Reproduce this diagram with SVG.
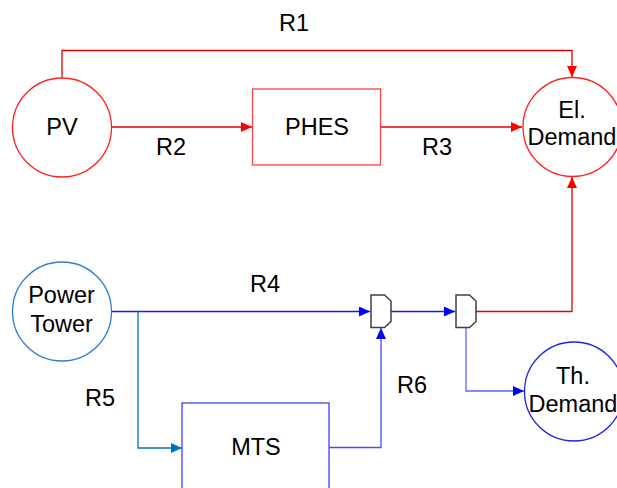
<svg xmlns="http://www.w3.org/2000/svg" width="617" height="488" viewBox="0 0 617 488">
<style>
text{font-family:"Liberation Sans",Arial,sans-serif;font-size:23.5px;fill:#000;text-anchor:middle}
.red{fill:none;stroke:#ff2020;stroke-width:1.3}
.redline{fill:none;stroke:#e00000;stroke-width:1.3}
.blueline{fill:none;stroke:#1a1aee;stroke-width:1.3}
.gate{fill:#ffffff;stroke:#404040;stroke-width:1.5}
</style>
<defs>
<marker id="ar" markerUnits="userSpaceOnUse" markerWidth="12" markerHeight="11" refX="11" refY="5" orient="auto"><path d="M0,0 L11,5 L0,10 Z" fill="#ff0000"/></marker>
<marker id="ab" markerUnits="userSpaceOnUse" markerWidth="12" markerHeight="11" refX="11" refY="5" orient="auto"><path d="M0,0 L11,5 L0,10 Z" fill="#0000ff"/></marker>
<marker id="ac" markerUnits="userSpaceOnUse" markerWidth="12" markerHeight="11" refX="11" refY="5" orient="auto"><path d="M0,0 L11,5 L0,10 Z" fill="#0070c0"/></marker>
</defs>
<g id="connectors">
<path class="redline" stroke="#ff2020" d="M62,77.5 V50.5 H572 V77" marker-end="url(#ar)"/>
<path class="redline" d="M112,127 H252" marker-end="url(#ar)"/>
<path class="redline" stroke="#ff2020" d="M381,127 H522" marker-end="url(#ar)"/>
<path class="redline" stroke="#ff2020" d="M476,311.5 H572 V177" marker-end="url(#ar)"/>
<path class="blueline" d="M111,311.5 H370" marker-end="url(#ab)"/>
<path fill="none" stroke="#0070c0" stroke-width="1.3" d="M138,311.5 V448 H182" marker-end="url(#ac)"/>
<path fill="none" stroke="#4848ff" stroke-width="1.3" d="M329,447.5 H381 V328" marker-end="url(#ab)"/>
<path class="blueline" d="M391,311.5 H455" marker-end="url(#ab)"/>
<path fill="none" stroke="#6060ff" stroke-width="1.3" d="M466,327 V391 H524" marker-end="url(#ab)"/>
</g>
<g id="labels">
<text x="294" y="31">R1</text>
<text x="171" y="155">R2</text>
<text x="437" y="155">R3</text>
<text x="265" y="292">R4</text>
<text x="100" y="406">R5</text>
<text x="412" y="393">R6</text>
</g>
<g id="pv"><circle class="red" cx="62" cy="127.5" r="49.5"/><text x="62" y="135">PV</text></g>
<g id="phes"><rect x="252.5" y="89" width="128" height="76" fill="#fff" stroke="#ff4040" stroke-width="1.3"/><text x="317" y="135">PHES</text></g>
<g id="el-demand"><circle class="red" cx="572.5" cy="127" r="49.5"/><text x="572" y="118">El.</text><text x="572" y="145">Demand</text></g>
<g id="power-tower"><circle fill="none" stroke="#2a80d0" stroke-width="1.3" cx="62" cy="311.5" r="49.5"/><text x="61.5" y="303">Power</text><text x="61.5" y="332">Tower</text></g>
<g id="mts"><rect x="182" y="403" width="147" height="95" fill="#fff" stroke="#4040ff" stroke-width="1.3"/><text x="256" y="455">MTS</text></g>
<g id="th-demand"><circle fill="none" stroke="#2020e0" stroke-width="1.3" cx="574" cy="391.5" r="49.5"/><text x="573" y="384">Th.</text><text x="573" y="412">Demand</text></g>
<g id="gate1"><path class="gate" d="M371,295 H384.5 L391,301 V321.5 L384.5,327.5 H371 Z"/></g>
<g id="gate2"><path class="gate" d="M456,295 H469.5 L476,301 V321.5 L469.5,327.5 H456 Z"/></g>
</svg>
